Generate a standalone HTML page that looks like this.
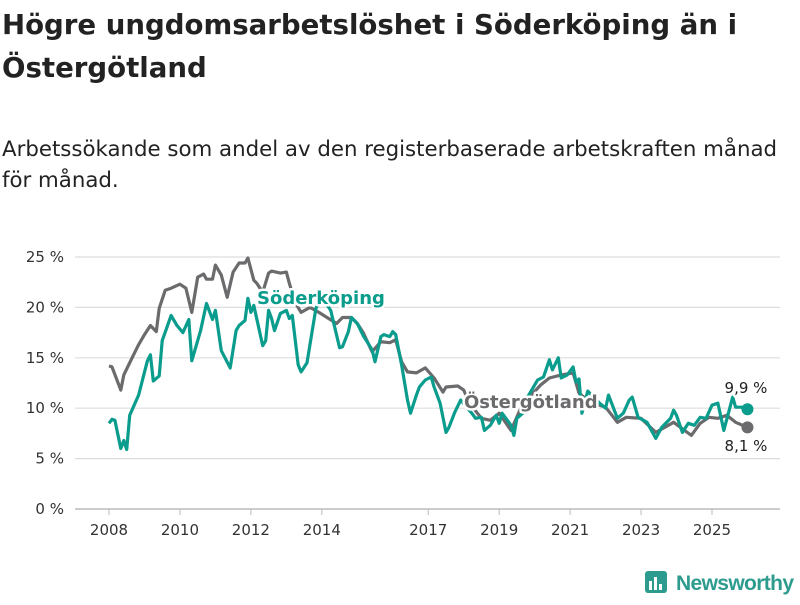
<!DOCTYPE html>
<html><head><meta charset="utf-8">
<style>
body{margin:0;background:#fff;width:800px;height:600px;overflow:hidden;font-family:"Liberation Sans","DejaVu Sans",sans-serif;}
svg text{font-family:"DejaVu Sans","Liberation Sans",sans-serif;}
.halo{paint-order:stroke;stroke:#fff;stroke-width:5px;stroke-linejoin:round;}
</style></head><body>
<svg id="chart" width="800" height="600" xmlns="http://www.w3.org/2000/svg">
<text x="2" y="34" font-size="27.6" font-weight="bold" fill="#222">Högre ungdomsarbetslöshet i Söderköping än i</text>
<text x="2" y="77" font-size="27.6" font-weight="bold" fill="#222">Östergötland</text>
<text x="2" y="156" font-size="21.3" fill="#222">Arbetssökande som andel av den registerbaserade arbetskraften månad</text>
<text x="2" y="187" font-size="21.3" fill="#222">för månad.</text>
<g id="grid"></g>
<g id="xaxis"></g>
<g id="lines"></g>
<g id="labels"></g>
<g>
<rect x="645" y="571" width="22" height="22" rx="3" fill="#2e9b8f"/>
<rect x="649" y="581" width="3" height="9" fill="#fff"/><rect x="654" y="577" width="3" height="13" fill="#fff"/><rect x="659" y="584" width="3" height="6" fill="#fff"/>
<text x="676" y="590" font-size="21" font-weight="bold" fill="#2e9b8f" style="font-family:'Liberation Sans',sans-serif" textLength="118">Newsworthy</text>
</g>
</svg>
<script>
const yTicks=[0,5,10,15,20,25];
const yTickLabels=["0 %","5 %","10 %","15 %","20 %","25 %"];
const xTicks=[2008,2010,2012,2014,2017,2019,2021,2023,2025];
const ostMonths=[0,1,4,5,8,10,12,14,16,17,19,21,24,26,28,30,32,33,35,36,38,40,42,44,46,47,49,50,52,54,55,58,60,61,63,65,68,71,77,79,82,84,86,89,92,95,97,99,101,104,107,110,113,114,118,120,122,126,129,132,136,139,142,146,149,153,157,159,163,166,168,172,175,180,185,191,197,200,203,206,209,212,216];
const ostValues=[14.2,14.1,11.8,13.3,15.1,16.3,17.3,18.2,17.6,19.9,21.7,21.9,22.3,21.9,19.5,23.0,23.3,22.8,22.8,24.2,23.2,21.0,23.5,24.4,24.4,24.9,22.7,22.4,21.5,23.4,23.6,23.4,23.5,22.4,20.5,19.5,20.0,19.5,18.4,19.0,19.0,18.4,17.5,15.6,16.6,16.5,16.8,14.6,13.6,13.5,14.0,13.0,11.6,12.1,12.2,11.8,10.5,9.0,8.8,9.5,7.8,9.8,11.0,12.3,13.0,13.3,13.5,11.5,10.5,10.3,10.1,8.6,9.1,9.0,7.6,8.6,7.3,8.5,9.1,9.0,9.3,8.6,8.1];
const sodMonths=[0,1,2,4,5,6,7,10,13,14,15,17,18,21,23,25,27,28,31,33,35,36,38,41,43,44,46,47,48,49,52,53,54,55,56,58,60,61,62,64,65,67,70,72,75,78,79,81,82,84,86,89,90,92,93,95,96,97,99,101,102,104,105,107,109,110,112,114,115,117,119,123,124,126,127,129,131,132,133,136,137,138,140,141,143,145,147,149,150,152,153,155,157,158,159,160,162,166,168,169,172,174,176,177,179,182,185,187,190,191,192,194,196,198,200,202,204,206,208,211,212,214,216];
const sodValues=[8.5,8.9,8.8,6.0,6.8,5.9,9.3,11.3,14.7,15.3,12.7,13.2,16.7,19.2,18.2,17.5,18.8,14.7,17.7,20.4,18.8,19.7,15.7,14.0,17.7,18.2,18.7,20.9,19.5,20.2,16.2,16.7,19.7,18.9,17.7,19.4,19.7,18.9,19.2,14.3,13.6,14.5,19.9,21.0,19.7,16.0,16.1,17.6,19.0,18.4,17.2,15.8,14.6,17.1,17.3,17.1,17.6,17.3,14.3,10.8,9.5,11.3,12.1,12.8,13.1,12.1,10.5,7.6,8.1,9.6,10.8,9.4,9.0,9.1,7.8,8.3,9.3,8.5,9.5,8.3,7.3,9.0,9.5,10.8,11.8,12.8,13.1,14.8,13.8,15.0,13.0,13.3,14.1,12.6,12.9,9.5,11.7,10.5,10.0,11.3,9.0,9.5,10.8,11.1,9.1,8.6,7.0,8.1,9.0,9.8,9.3,7.6,8.5,8.3,9.1,9.0,10.3,10.5,7.8,11.1,10.1,10.1,9.9];

const NS="http://www.w3.org/2000/svg";
const y=v=>509-v*10.08;
const xYear=yr=>109+(yr-2008)*35.47;
const xM=m=>109+m*35.47/12;
function mk(tag,attrs,parent){const e=document.createElementNS(NS,tag);for(const k in attrs)e.setAttribute(k,attrs[k]);parent.appendChild(e);return e;}
const grid=document.getElementById('grid'),xa=document.getElementById('xaxis'),lines=document.getElementById('lines'),labels=document.getElementById('labels');
yTicks.forEach((t,i)=>{
  const l=mk('line',{x1:75,x2:780,y1:y(t),y2:y(t),stroke:t===0?'#bbb':'#ddd','stroke-width':t===0?1.5:1.2},grid);
  
  
  const tx=mk('text',{x:64,y:y(t)+5,'text-anchor':'end','font-size':15,fill:'#333'},grid);
  
  
  tx.textContent=yTickLabels[i];
});
xTicks.forEach(t=>{
  const l=mk('line',{x1:xYear(t),x2:xYear(t),y1:509,y2:515,stroke:'#bbb'},xa);
  
  
  const tx=mk('text',{x:xYear(t),y:535,'text-anchor':'middle','font-size':15,fill:'#333'},xa);
  
  
  tx.textContent=t;
});
function series(ms,vs,color,name){
  const d=ms.map((m,i)=>(i?'L':'M')+xM(m).toFixed(1)+','+y(vs[i]).toFixed(1)).join('');
  const p=mk('path',{d:d,fill:'none',stroke:color,'stroke-width':3.2,'stroke-linejoin':'round'},lines);
  
  
  const n=ms.length-1;
  const c=mk('circle',{cx:xM(ms[n]),cy:y(vs[n]),r:6,fill:color},lines);
  
  
}
series(ostMonths,ostValues,'#6b6b6e','ostergotland-line');
series(sodMonths,sodValues,'#0a9c8c','soderkoping-line');
function lab(x,yy,txt,color,size,weight,name,anchor){
  const t=mk('text',{x:x,y:yy,'font-size':size,'font-weight':weight,fill:color,'text-anchor':anchor||'start',class:'halo'},labels);
  
  
  t.textContent=txt;
}
lab(257,304,'Söderköping','#0a9c8c',18,'bold','soderkoping-label');
lab(464,408,'Östergötland','#6b6b6e',18,'bold','ostergotland-label');
lab(746,393,'9,9 %','#222',15,'normal','soderkoping-last-value','middle');
lab(746,451,'8,1 %','#222',15,'normal','ostergotland-last-value','middle');
</script>
</body></html>
